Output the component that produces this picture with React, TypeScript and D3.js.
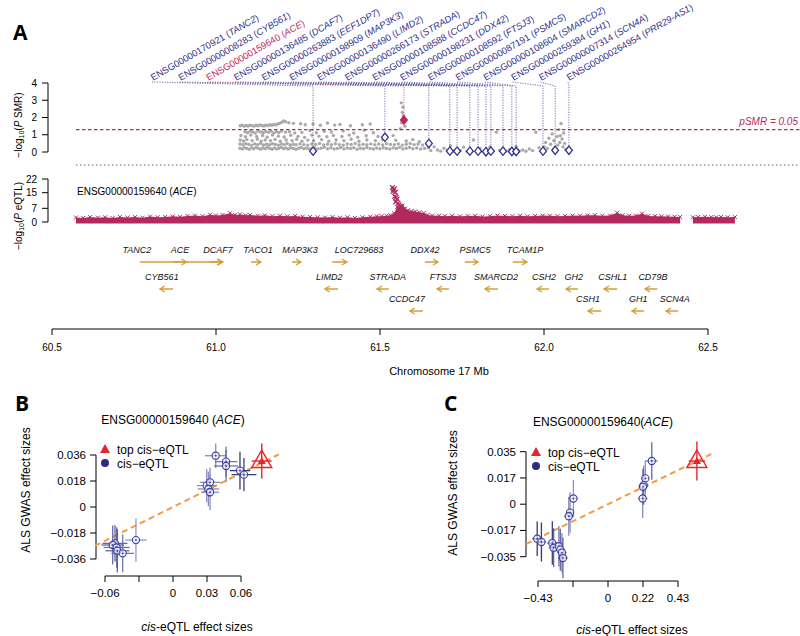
import React from 'react';
import * as d3 from 'd3';

const FONT = "'Liberation Sans', Arial, Helvetica, sans-serif";
const NAVY = '#2f2f8c';
const ACE_RED = '#c2255c';
const EQTL_COL = '#b3285e';
const GREY = '#a9a9a9';
const GOLD = '#d4a03b';
const ORANGE = '#f59a45';
const TOP_RED = '#e8242b';

// ---------- Panel A: SMR probes ----------
const probeIds = ['ENSG00000170921', 'ENSG00000008283', 'ENSG00000159640', 'ENSG00000136485', 'ENSG00000263883', 'ENSG00000198909', 'ENSG00000136490', 'ENSG00000266173', 'ENSG00000108588', 'ENSG00000198231', 'ENSG00000108592', 'ENSG00000087191', 'ENSG00000108604', 'ENSG00000259384', 'ENSG00000007314', 'ENSG00000264954'];
const probeGenes = ['TANC2', 'CYB561', 'ACE', 'DCAF7', 'EEF1DP7', 'MAP3K3', 'LIMD2', 'STRADA', 'CCDC47', 'DDX42', 'FTSJ3', 'PSMC5', 'SMARCD2', 'GH1', 'SCN4A', 'PRR29-AS1'];
const probePos = [61.296, 61.515, 61.573, 61.649, 61.713, 61.735, 61.774, 61.799, 61.823, 61.838, 61.875, 61.902, 61.915, 61.997, 62.034, 62.076];
const probeLogP = [0.05, 0.85, 1.85, 0.5, 0.05, 0.05, 0.05, 0.05, 0.02, 0.05, 0.05, 0.03, 0.03, 0.05, 0.1, 0.1];
const highlightGene = 'ACE';
const smrThreshold = 0.05;
const smrTicks = [0, 1, 2, 3, 4];

// GWAS SNPs shown behind the probes: [position Mb, -log10 P]
const smrSnps: [number, number][] = [
  [61.074, 1.52], [61.080, 1.55], [61.086, 1.50], [61.092, 1.54], [61.098, 1.51], [61.104, 1.56], [61.110, 1.53], [61.116, 1.50], [61.122, 1.55], [61.128, 1.52], [61.134, 1.57], [61.140, 1.54], [61.146, 1.51], [61.152, 1.56], [61.158, 1.53], [61.164, 1.58], [61.170, 1.55], [61.176, 1.60], [61.182, 1.57], [61.188, 1.62], [61.194, 1.66], [61.200, 1.72], [61.206, 1.80], [61.212, 1.76], [61.222, 1.70], [61.236, 1.66], [61.258, 1.64], [61.272, 1.58], [61.296, 1.62], [61.318, 1.55], [61.340, 1.68], [61.362, 1.56], [61.378, 1.60], [61.410, 1.52], [61.446, 1.58], [61.470, 1.62],
  [61.088, 1.18], [61.096, 1.12], [61.104, 1.20], [61.112, 1.15], [61.120, 1.10], [61.128, 1.22], [61.136, 1.16], [61.144, 1.12], [61.152, 1.19], [61.160, 1.14], [61.168, 1.21], [61.176, 1.11], [61.184, 1.17], [61.192, 1.13], [61.200, 1.22], [61.212, 1.15], [61.224, 1.18], [61.240, 1.10], [61.262, 1.14], [61.286, 1.24], [61.306, 1.12], [61.330, 1.20], [61.352, 1.16], [61.388, 1.22], [61.420, 1.10], [61.452, 1.26], [61.480, 1.12],
  [61.076, 0.95], [61.090, 0.88], [61.106, 0.98], [61.124, 0.90], [61.142, 0.96], [61.156, 0.86], [61.172, 0.99], [61.190, 0.92], [61.208, 0.87], [61.228, 0.97], [61.250, 0.90], [61.270, 0.85], [61.292, 0.98], [61.314, 0.92], [61.338, 0.88], [61.358, 0.96], [61.384, 0.90], [61.406, 0.98], [61.432, 0.86], [61.458, 0.94], [61.494, 0.90], [61.540, 0.95],
  [61.074, 0.70], [61.084, 0.64], [61.094, 0.72], [61.110, 0.66], [61.126, 0.74], [61.138, 0.62], [61.150, 0.70], [61.166, 0.66], [61.180, 0.73], [61.196, 0.63], [61.214, 0.70], [61.232, 0.66], [61.246, 0.74], [61.262, 0.62], [61.280, 0.69], [61.298, 0.65], [61.322, 0.72], [61.344, 0.63], [61.366, 0.70], [61.390, 0.66], [61.412, 0.74], [61.436, 0.62], [61.460, 0.70], [61.486, 0.66], [61.508, 0.72], [61.548, 0.68], [61.580, 0.64], [61.600, 0.72], [61.620, 0.60],
  [61.073, 0.46], [61.082, 0.42], [61.091, 0.48], [61.100, 0.44], [61.109, 0.40], [61.118, 0.47], [61.127, 0.43], [61.136, 0.49], [61.145, 0.41], [61.154, 0.45], [61.163, 0.42], [61.172, 0.48], [61.181, 0.44], [61.190, 0.40], [61.199, 0.46], [61.208, 0.43], [61.217, 0.49], [61.226, 0.41], [61.235, 0.45], [61.244, 0.42], [61.256, 0.47], [61.268, 0.43], [61.280, 0.40], [61.292, 0.46], [61.304, 0.44], [61.316, 0.49], [61.328, 0.41], [61.340, 0.45], [61.352, 0.42], [61.364, 0.48], [61.376, 0.43], [61.388, 0.40], [61.400, 0.46], [61.412, 0.44], [61.424, 0.49], [61.436, 0.41], [61.448, 0.45], [61.460, 0.42], [61.472, 0.47], [61.484, 0.43], [61.496, 0.46], [61.508, 0.41], [61.520, 0.48], [61.532, 0.44], [61.544, 0.42], [61.556, 0.47], [61.568, 0.40], [61.580, 0.45], [61.592, 0.50], [61.604, 0.43], [61.616, 0.46], [61.630, 0.41],
  [61.073, 0.22], [61.080, 0.18], [61.087, 0.25], [61.094, 0.20], [61.101, 0.16], [61.108, 0.24], [61.115, 0.19], [61.122, 0.27], [61.129, 0.21], [61.136, 0.17], [61.143, 0.23], [61.150, 0.19], [61.157, 0.26], [61.164, 0.20], [61.171, 0.16], [61.178, 0.24], [61.185, 0.18], [61.192, 0.22], [61.199, 0.27], [61.206, 0.19], [61.213, 0.23], [61.220, 0.17], [61.228, 0.25], [61.236, 0.20], [61.244, 0.16], [61.252, 0.22], [61.260, 0.26], [61.268, 0.19], [61.276, 0.23], [61.284, 0.17], [61.292, 0.21], [61.300, 0.25], [61.310, 0.18], [61.320, 0.22], [61.330, 0.27], [61.340, 0.19], [61.350, 0.24], [61.360, 0.17], [61.370, 0.21], [61.380, 0.26], [61.390, 0.18], [61.400, 0.23], [61.410, 0.20], [61.420, 0.25], [61.430, 0.16], [61.440, 0.22], [61.450, 0.19], [61.460, 0.26], [61.470, 0.20], [61.480, 0.17], [61.490, 0.23], [61.500, 0.19], [61.510, 0.25], [61.520, 0.21], [61.530, 0.17], [61.540, 0.24], [61.550, 0.20], [61.560, 0.27], [61.570, 0.18], [61.580, 0.22], [61.590, 0.26], [61.600, 0.19], [61.612, 0.23], [61.624, 0.17], [61.636, 0.21], [61.648, 0.25],
  [61.655, 0.08], [61.665, 0.30], [61.675, 0.12], [61.685, 0.05], [61.695, 0.22], [61.705, 0.10], [61.715, 0.35], [61.725, 0.06], [61.735, 0.18], [61.745, 0.09], [61.755, 0.28], [61.765, 0.04], [61.775, 0.14], [61.785, 0.70], [61.795, 0.08], [61.805, 0.20], [61.815, 0.05], [61.825, 0.12], [61.835, 0.30], [61.845, 0.06], [61.855, 1.15], [61.865, 0.10], [61.875, 0.22], [61.885, 0.05], [61.895, 0.15], [61.905, 0.08], [61.915, 0.32], [61.925, 0.06], [61.935, 0.12], [61.945, 0.04], [61.955, 0.18], [61.965, 0.08], [61.975, 1.15], [61.985, 0.25],
  [61.995, 0.10], [62.000, 0.30], [62.005, 0.55], [62.010, 0.20], [62.015, 0.80], [62.020, 0.45], [62.025, 1.05], [62.030, 0.65], [62.035, 0.25], [62.040, 0.90], [62.045, 1.30], [62.048, 0.55], [62.052, 1.65], [62.055, 0.75], [62.058, 0.30], [62.060, 1.10], [62.063, 0.50], [62.066, 0.15], [62.050, 0.95], [62.042, 0.40],
  [61.565, 2.85], [61.568, 2.30], [61.571, 2.10], [61.574, 1.95], [61.570, 2.60], [61.566, 1.70], [61.576, 1.50], [61.562, 1.35],
];

// ---------- Panel A: eQTL of ACE ----------
const eqtlTicks = [0, 7, 15, 22];
const eqtlProbeId = 'ENSG00000159640';
const eqtlProbeGene = 'ACE';
// upper envelope of the dense SNP band: [position Mb, -log10 P]
const eqtlBandWest: [number, number][] = [
  [60.573, 2.3], [60.595, 2.1], [60.616, 2.5], [60.640, 2.2], [60.662, 2.4], [60.685, 2.0], [60.707, 2.6], [60.730, 2.3], [60.753, 2.5], [60.776, 2.2], [60.799, 2.8], [60.822, 2.4], [60.845, 2.6], [60.868, 2.9], [60.890, 2.7], [60.913, 3.1], [60.936, 3.3], [60.959, 3.0], [60.982, 3.7], [61.000, 3.3], [61.020, 3.6], [61.043, 4.5], [61.058, 3.6], [61.073, 3.9], [61.090, 3.4], [61.104, 3.6], [61.127, 3.2], [61.149, 3.4], [61.172, 3.0], [61.195, 3.2], [61.218, 2.9], [61.241, 3.1], [61.264, 2.7], [61.287, 2.6], [61.310, 2.4], [61.332, 2.3], [61.355, 2.5], [61.378, 2.2], [61.401, 2.4], [61.424, 2.1], [61.447, 2.4], [61.470, 2.7], [61.490, 2.9], [61.505, 3.0], [61.520, 3.2], [61.532, 3.5], [61.543, 4.5], [61.552, 7.6], [61.560, 8.2], [61.568, 8.4], [61.576, 6.8], [61.585, 6.0], [61.596, 5.6], [61.607, 5.4], [61.620, 5.0], [61.633, 4.6], [61.645, 3.6], [61.659, 3.3], [61.680, 3.2], [61.698, 3.0], [61.720, 3.2], [61.744, 2.9], [61.767, 3.1], [61.790, 3.2], [61.812, 2.8], [61.835, 3.0], [61.858, 3.3], [61.881, 3.1], [61.904, 3.0], [61.927, 3.2], [61.950, 2.9], [61.973, 3.1], [61.996, 3.3], [62.018, 3.2], [62.041, 3.0], [62.064, 3.1], [62.087, 3.3], [62.110, 3.2], [62.133, 3.4], [62.155, 3.5], [62.178, 3.2], [62.201, 3.3], [62.223, 4.7], [62.240, 3.4], [62.260, 3.2], [62.280, 3.3], [62.299, 4.3], [62.318, 3.1], [62.338, 3.0], [62.358, 2.9], [62.378, 2.8], [62.398, 2.7], [62.415, 2.6],
];
const eqtlBandEast: [number, number][] = [
  [62.454, 2.4], [62.470, 2.6], [62.491, 2.7], [62.510, 2.5], [62.525, 2.4], [62.540, 2.6], [62.560, 2.4], [62.582, 2.5],
];
const eqtlPeak: [number, number][] = [
  [61.538, 17.6], [61.541, 16.5], [61.544, 17.0], [61.540, 15.6], [61.547, 15.2], [61.545, 13.1], [61.549, 12.5], [61.552, 11.7], [61.548, 10.3], [61.555, 9.6], [61.558, 8.8], [61.562, 8.0], [61.566, 7.2], [61.571, 6.4],
];

// ---------- Panel A: gene track ----------
const geneNames = ['TANC2', 'ACE', 'DCAF7', 'TACO1', 'MAP3K3', 'LOC729683', 'DDX42', 'PSMC5', 'TCAM1P', 'CYB561', 'LIMD2', 'STRADA', 'FTSJ3', 'SMARCD2', 'CSH2', 'GH2', 'CSHL1', 'CD79B', 'CCDC47', 'CSH1', 'GH1', 'SCN4A'];
const geneStart = [60.768, 60.870, 60.982, 61.107, 61.232, 61.354, 61.637, 61.759, 61.905, 60.829, 61.332, 61.491, 61.674, 61.820, 61.979, 62.067, 62.183, 62.308, 61.591, 62.134, 62.268, 62.372];
const geneEnd = [61.021, 60.910, 61.018, 61.137, 61.259, 61.399, 61.677, 61.799, 61.948, 60.869, 61.372, 61.527, 61.710, 61.860, 62.015, 62.104, 62.223, 62.345, 61.631, 62.174, 62.305, 62.409];
const geneLabelAt = [60.759, 60.890, 61.006, 61.128, 61.256, 61.436, 61.637, 61.790, 61.942, 60.835, 61.345, 61.524, 61.692, 61.854, 62.000, 62.091, 62.210, 62.332, 61.582, 62.134, 62.287, 62.399];
const geneStrand = ['+', '+', '+', '+', '+', '+', '+', '+', '+', '-', '-', '-', '-', '-', '-', '-', '-', '-', '-', '-', '-', '-'];
const geneRow = [0, 0, 0, 0, 0, 0, 0, 0, 0, 1, 1, 1, 1, 1, 1, 1, 1, 1, 2, 2, 2, 2];
const chromTicks = [60.5, 61.0, 61.5, 62.0, 62.5];
const chromLabel = 'Chromosome 17 Mb';

// ---------- Panel B: effect sizes, ACE (eQTL set 1) ----------
const bEqtl = [0.0377, 0.0468, 0.0468, 0.0591, 0.0626, 0.0297, 0.0327, 0.0312, 0.0327, -0.0327, -0.0512, -0.0532, -0.0497, -0.0491, -0.0444];
const bGwas = [0.0355, 0.0314, 0.0284, 0.0252, 0.0224, 0.0148, 0.0171, 0.0125, 0.0102, -0.0229, -0.0252, -0.0263, -0.0280, -0.0303, -0.0321];
const bEqtlSe = [0.0095, 0.0100, 0.0105, 0.0090, 0.0110, 0.0085, 0.0090, 0.0095, 0.0080, 0.0095, 0.0110, 0.0100, 0.0115, 0.0105, 0.0100];
const bGwasSe = [0.0085, 0.0105, 0.0110, 0.0130, 0.0115, 0.0115, 0.0100, 0.0120, 0.0125, 0.0150, 0.0125, 0.0135, 0.0140, 0.0150, 0.0130];
const bLd = [0.3, 0.45, 0.5, 0.95, 0.9, 0.25, 0.3, 0.3, 0.25, 0.2, 0.6, 0.55, 0.5, 0.6, 0.45];
const bTop = [0.0783, 0.0318, 0.0088, 0.0121];
const bSlope = 0.39;
const bXTicks = [-0.06, -0.03, 0, 0.03, 0.06];
const bXTickLabels = ['\u22120.06', '', '0', '0.03', '0.06'];
const bYTicks = [-0.036, -0.018, 0, 0.018, 0.036];
const bYTickLabels = ['\u22120.036', '\u22120.018', '0', '0.018', '0.036'];

// ---------- Panel C: effect sizes, ACE (eQTL set 2) ----------
const cEqtl = [0.269, 0.229, 0.219, 0.215, 0.213, -0.2125, -0.233, -0.241, -0.435, -0.409, -0.342, -0.334, -0.302, -0.293, -0.283, -0.277];
const cGwas = [0.0288, 0.0172, 0.0127, 0.0116, 0.0038, 0.0038, -0.0056, -0.0080, -0.0230, -0.0252, -0.0259, -0.0290, -0.0280, -0.0303, -0.0323, -0.0359];
const cEqtlSe = [0.035, 0.025, 0.030, 0.028, 0.030, 0.030, 0.025, 0.030, 0.030, 0.028, 0.030, 0.030, 0.025, 0.030, 0.028, 0.030];
const cGwasSe = [0.0125, 0.0120, 0.0130, 0.0120, 0.0130, 0.0125, 0.0135, 0.0130, 0.0115, 0.0130, 0.0145, 0.0130, 0.0135, 0.0140, 0.0130, 0.0135];
const cLd = [0.6, 0.3, 0.3, 0.7, 0.3, 0.25, 0.3, 0.3, 0.95, 0.95, 0.9, 0.6, 0.4, 0.6, 0.35, 0.6];
const cTop = [0.546, 0.0288, 0.05, 0.013];
const cSlope = 0.0527;
const cXTicks = [-0.43, -0.215, 0, 0.215, 0.43];
const cXTickLabels = ['\u22120.43', '', '0', '0.22', '0.43'];
const cYTicks = [-0.035, -0.0175, 0, 0.0175, 0.035];
const cYTickLabels = ['\u22120.035', '\u22120.017', '0', '0.017', '0.035'];

const crossPath = (s: number) => `M${-s},${-s}L${s},${s}M${-s},${s}L${s},${-s}`;

function EffectPanel(p: any) {
  const xs = d3.scaleLinear().domain(p.xDomain).range(p.xRange);
  const ys = d3.scaleLinear().domain(p.yDomain).range(p.yRange);
  const ldColor = d3.scaleLinear<string>().domain([0, 1]).range(['#a3abdf', '#1c1f5e']).interpolate(d3.interpolateRgb);
  const [cx0, cx1, cy0, cy1] = p.clip;
  const lx0 = xs.invert(cx0);
  const lx1 = xs.invert(cx1);
  const [tx, ty, tsx, tsy] = p.top;
  const ax = p.yAxisX;
  const ay = p.xAxisY;
  const yEnds = d3.extent(p.yTicks) as [number, number];
  const xEnds = d3.extent(p.xTicks) as [number, number];
  return (
    <g>
      <defs>
        <clipPath id={p.id}>
          <rect x={cx0} y={cy0} width={cx1 - cx0} height={cy1 - cy0} />
        </clipPath>
      </defs>
      <text x={p.letterX} y={411} fontFamily="'Open Sans', sans-serif" fontWeight={700} fontSize={21}>{p.letter}</text>
      <text x={p.titleX} y={p.titleY} textAnchor="middle" fontSize={12}>
        {p.titleId}<tspan fontStyle="italic">{p.titleGene}</tspan>)
      </text>
      {/* y axis */}
      <line x1={ax} x2={ax} y1={ys(yEnds[0])} y2={ys(yEnds[1])} stroke="#000" strokeWidth={1} />
      {p.yTicks.map((t: number, i: number) => (
        <g key={'yt' + i}>
          <line x1={ax - 6} x2={ax} y1={ys(t)} y2={ys(t)} stroke="#000" />
          <text x={ax - 10} y={ys(t) + 4} textAnchor="end" fontSize={11.5}>{p.yTickLabels[i]}</text>
        </g>
      ))}
      {/* x axis */}
      <line x1={xs(xEnds[0])} x2={xs(xEnds[1])} y1={ay} y2={ay} stroke="#000" />
      {p.xTicks.map((t: number, i: number) => (
        <g key={'xt' + i}>
          <line x1={xs(t)} x2={xs(t)} y1={ay} y2={ay + 6} stroke="#000" />
          <text x={xs(t)} y={ay + 21} textAnchor="middle" fontSize={11.5}>{p.xTickLabels[i]}</text>
        </g>
      ))}
      <text x={p.xLabelX} y={p.xLabelY} textAnchor="middle" fontSize={12}>
        <tspan fontStyle="italic">cis</tspan>-eQTL effect sizes
      </text>
      <text transform={`translate(${p.yLabelX},${p.yLabelY}) rotate(-90)`} textAnchor="middle" fontSize={12}>ALS GWAS effect sizes</text>
      {/* regression through the origin */}
      <g clipPath={`url(#${p.id})`}>
        <line x1={xs(lx0)} y1={ys(p.slope * lx0)} x2={xs(lx1)} y2={ys(p.slope * lx1)} stroke={ORANGE} strokeWidth={2} strokeDasharray="6,4" />
      </g>
      {/* error bars */}
      {p.eqtl.map((e: number, i: number) => {
        const g = p.gwas[i];
        const col = ldColor(p.ld[i]);
        return (
          <g key={'eb' + i} stroke={col} strokeWidth={1.3} opacity={0.9}>
            <line x1={xs(e - p.eqtlSe[i])} x2={xs(e + p.eqtlSe[i])} y1={ys(g)} y2={ys(g)} />
            <line x1={xs(e)} x2={xs(e)} y1={ys(g - p.gwasSe[i])} y2={ys(g + p.gwasSe[i])} />
          </g>
        );
      })}
      {p.eqtl.map((e: number, i: number) => (
        <g key={'pt' + i} transform={`translate(${xs(e)},${ys(p.gwas[i])})`}>
          <circle r={3.6} fill="rgba(255,255,255,0.6)" stroke="#3d41a3" strokeWidth={1.1} />
          <circle r={0.9} fill="#3d41a3" />
        </g>
      ))}
      {/* top cis-eQTL */}
      <g stroke={TOP_RED} strokeWidth={1.4}>
        <line x1={xs(tx - tsx)} x2={xs(tx + tsx)} y1={ys(ty)} y2={ys(ty)} />
        <line x1={xs(tx)} x2={xs(tx)} y1={ys(ty - tsy)} y2={ys(ty + tsy)} />
      </g>
      <g transform={`translate(${xs(tx)},${ys(ty)})`}>
        <path d="M0,-11L10,6.5L-10,6.5Z" fill="none" stroke={TOP_RED} strokeWidth={1.4} />
        <path d="M0,-4L4,3L-4,3Z" fill={TOP_RED} />
      </g>
      {/* legend */}
      <g transform={`translate(${p.legendX},${p.legendY})`}>
        <path d="M0,-5L5,4L-5,4Z" fill={TOP_RED} />
        <text x={12} y={4.5} fontSize={12}>top cis{'\u2212'}eQTL</text>
        <circle cx={0} cy={14} r={4} fill="#2b2d7a" />
        <text x={12} y={18.5} fontSize={12}>cis{'\u2212'}eQTL</text>
      </g>
    </g>
  );
}

export default function App() {
  const x = d3.scaleLinear().domain([60.5, 62.5]).range([52, 708]);
  const yS = d3.scaleLinear().domain([0, 4]).range([152, 83]);
  const yE = d3.scaleLinear().domain([0, 22]).range([222, 179]);
  const labelX = d3.scaleLinear().domain([0, probeIds.length - 1]).range([152, 568]);
  const rowY = [262, 289, 311];
  const thresholdY = yS(-Math.log10(smrThreshold));

  const band = d3.area<[number, number]>()
    .x(d => x(d[0]))
    .y0(yE(0) + 1.5)
    .y1(d => yE(d[1]));

  const arrowPath = (x1: number, x2: number, y: number, strand: string) => {
    const tip = strand === '+' ? x2 : x1;
    const dir = strand === '+' ? 1 : -1;
    return `M${x1},${y}L${x2},${y}M${tip - dir * 5},${y - 3}L${tip},${y}L${tip - dir * 5},${y + 3}`;
  };

  return (
    <svg width={800} height={636} style={{ position: 'absolute', left: 0, top: 0, background: '#fff' }} fontFamily={FONT}>
      <rect width={800} height={636} fill="#fff" />
      <text x={13} y={40} fontFamily="'Open Sans', sans-serif" fontWeight={700} fontSize={21}>A</text>

      {/* SMR y axis */}
      <line x1={48} x2={48} y1={yS(0)} y2={yS(4)} stroke="#000" />
      {smrTicks.map(t => (
        <g key={'st' + t}>
          <line x1={42} x2={48} y1={yS(t)} y2={yS(t)} stroke="#000" />
          <text x={37} y={yS(t) + 3.5} textAnchor="end" fontSize={10}>{t}</text>
        </g>
      ))}
      <text transform="translate(22,125) rotate(-90)" textAnchor="middle" fontSize={10}>
        {'\u2212'}log<tspan fontSize={7} dy={2}>10</tspan><tspan dy={-2}>(</tspan><tspan fontStyle="italic">P</tspan> SMR)
      </text>

      {/* GWAS SNPs */}
      {smrSnps.map((d, i) => (
        <circle key={'g' + i} cx={x(d[0])} cy={yS(d[1])} r={1.7} fill={GREY} />
      ))}

      {/* significance threshold */}
      <line x1={76} x2={800} y1={thresholdY} y2={thresholdY} stroke={EQTL_COL} strokeWidth={1.2} strokeDasharray="3.5,2.5" />
      <text x={798} y={thresholdY - 5} textAnchor="end" fontSize={10} fontStyle="italic" fill={EQTL_COL}>pSMR = {smrThreshold}</text>

      {/* probe connectors and labels */}
      {probeIds.map((id, i) => {
        const hl = probeGenes[i] === highlightGene;
        const col = hl ? ACE_RED : NAVY;
        const px = x(probePos[i]);
        return (
          <path key={'c' + i} d={`M${labelX(i)},82L${px},86L${px},${yS(probeLogP[i]) - 4}`} fill="none" stroke={col} strokeWidth={0.8} strokeDasharray="1.2,1.3" opacity={0.85} />
        );
      })}
      {probeIds.map((id, i) => {
        const hl = probeGenes[i] === highlightGene;
        const col = hl ? ACE_RED : NAVY;
        return (
          <text key={'l' + i} transform={`translate(${labelX(i) + 1},81) rotate(-30)`} fontSize={9.4} fill={col}>
            {id} (<tspan fontStyle="italic">{probeGenes[i]}</tspan>)
          </text>
        );
      })}
      {probeIds.map((id, i) => {
        const hl = probeGenes[i] === highlightGene;
        return (
          <path key={'d' + i} transform={`translate(${x(probePos[i])},${yS(probeLogP[i])})`} d="M0,-4.2L3.4,0L0,4.2L-3.4,0Z"
            fill={hl ? ACE_RED : '#fff'} stroke={hl ? ACE_RED : NAVY} strokeWidth={1.3} />
        );
      })}

      {/* separator */}
      <line x1={76} x2={800} y1={165} y2={165} stroke="#666" strokeWidth={1} strokeDasharray="1.5,2.5" />

      {/* eQTL y axis */}
      <line x1={48} x2={48} y1={yE(0)} y2={yE(22)} stroke="#000" />
      {eqtlTicks.map(t => (
        <g key={'et' + t}>
          <line x1={42} x2={48} y1={yE(t)} y2={yE(t)} stroke="#000" />
          <text x={37} y={yE(t) + 3.5} textAnchor="end" fontSize={10}>{t}</text>
        </g>
      ))}
      <text transform="translate(22,216) rotate(-90)" textAnchor="middle" fontSize={10}>
        {'\u2212'}log<tspan fontSize={7} dy={2}>10</tspan><tspan dy={-2}>(</tspan><tspan fontStyle="italic">P</tspan> eQTL)
      </text>
      <text x={77} y={195} fontSize={10}>
        {eqtlProbeId} (<tspan fontStyle="italic">{eqtlProbeGene}</tspan>)
      </text>

      {/* eQTL SNP band */}
      {[eqtlBandWest, eqtlBandEast].map((seg, k) => (
        <path key={'band' + k} d={band(seg) || ''} fill={EQTL_COL} />
      ))}
      {[...eqtlBandWest, ...eqtlBandEast].map((d, i) => (
        <path key={'x' + i} transform={`translate(${x(d[0])},${yE(d[1])})`} d={crossPath(2)} stroke={EQTL_COL} strokeWidth={1} />
      ))}
      {eqtlPeak.map((d, i) => (
        <path key={'xp' + i} transform={`translate(${x(d[0])},${yE(d[1])})`} d={crossPath(2.4)} stroke={EQTL_COL} strokeWidth={1.2} />
      ))}

      {/* gene track */}
      {geneNames.map((g, i) => (
        <g key={'gene' + i}>
          <path d={arrowPath(x(geneStart[i]), x(geneEnd[i]), rowY[geneRow[i]], geneStrand[i])} fill="none" stroke={GOLD} strokeWidth={1.4} />
          <text x={x(geneLabelAt[i])} y={rowY[geneRow[i]] - 9.5} textAnchor="middle" fontSize={9} fontStyle="italic" fill="#111">{g}</text>
        </g>
      ))}

      {/* chromosome axis */}
      <line x1={x(60.5)} x2={x(62.5)} y1={329} y2={329} stroke="#000" />
      {chromTicks.map(t => (
        <g key={'ct' + t}>
          <line x1={x(t)} x2={x(t)} y1={329} y2={335} stroke="#000" />
          <text x={x(t)} y={351} textAnchor="middle" fontSize={10}>{d3.format('.1f')(t)}</text>
        </g>
      ))}
      <text x={439} y={375} textAnchor="middle" fontSize={11}>{chromLabel}</text>

      <EffectPanel id="clipB" letter="B" letterX={15}
        titleId="ENSG00000159640 (" titleGene="ACE" titleX={173} titleY={424}
        xDomain={[-0.06, 0.06]} xRange={[105, 241]} yDomain={[-0.036, 0.036]} yRange={[559, 455]}
        clip={[95, 279, 438, 576]} yAxisX={96} xAxisY={576}
        xTicks={bXTicks} xTickLabels={bXTickLabels} yTicks={bYTicks} yTickLabels={bYTickLabels}
        xLabelX={197} xLabelY={631} yLabelX={30} yLabelY={490}
        eqtl={bEqtl} gwas={bGwas} eqtlSe={bEqtlSe} gwasSe={bGwasSe} ld={bLd} top={bTop} slope={bSlope}
        legendX={105} legendY={449} />
      <EffectPanel id="clipC" letter="C" letterX={444}
        titleId="ENSG00000159640(" titleGene="ACE" titleX={603} titleY={426}
        xDomain={[-0.43, 0.43]} xRange={[538, 678]} yDomain={[-0.035, 0.035]} yRange={[556.7, 451.7]}
        clip={[526, 712, 438, 581]} yAxisX={526} xAxisY={581}
        xTicks={cXTicks} xTickLabels={cXTickLabels} yTicks={cYTicks} yTickLabels={cYTickLabels}
        xLabelX={632} xLabelY={634} yLabelX={457} yLabelY={493}
        eqtl={cEqtl} gwas={cGwas} eqtlSe={cEqtlSe} gwasSe={cGwasSe} ld={cLd} top={cTop} slope={cSlope}
        legendX={536} legendY={452} />
    </svg>
  );
}
